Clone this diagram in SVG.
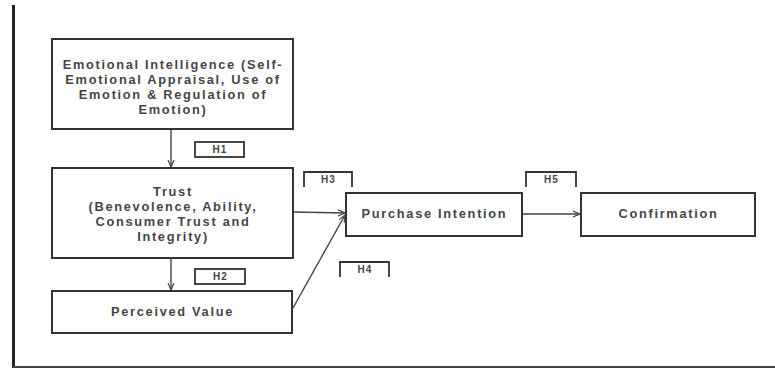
<svg xmlns="http://www.w3.org/2000/svg" width="775" height="369" viewBox="0 0 775 369">
<style>
.box{fill:#fff;stroke:#333;stroke-width:2}
.lab{fill:#fff;stroke:#333;stroke-width:1.8}
.t{font-family:"Liberation Sans",Arial,sans-serif;font-size:12.8px;letter-spacing:1.7px;font-weight:bold;fill:#454545;text-anchor:middle}
.h{font-family:"Liberation Sans",Arial,sans-serif;font-size:10px;letter-spacing:1px;font-weight:bold;fill:#454545;text-anchor:middle}
.c{stroke:#444;stroke-width:1.4;fill:none;marker-end:url(#ah)}
</style>
<defs>
<marker id="ah" markerWidth="8" markerHeight="8" refX="7" refY="4" orient="auto" markerUnits="userSpaceOnUse">
<path d="M0,1 L7,4 L0,7" fill="none" stroke="#444" stroke-width="1.2"/>
</marker>
</defs>
<rect width="775" height="369" fill="#fff"/>
<line x1="13.5" y1="5" x2="13.5" y2="368" stroke="#222" stroke-width="3"/>
<line x1="13" y1="367" x2="775" y2="367" stroke="#444" stroke-width="2"/>
<g id="connectors">
<line class="c" x1="171" y1="129" x2="171" y2="167"/>
<line class="c" x1="171" y1="258" x2="171" y2="290"/>
<line class="c" x1="294" y1="212" x2="345" y2="213"/>
<line class="c" x1="293" y1="308" x2="345" y2="215"/>
<line class="c" x1="522" y1="214" x2="580" y2="214"/>
</g>
<g id="ei">
<rect class="box" x="52" y="39" width="241" height="90"/>
<text class="t" x="173" y="69">Emotional Intelligence (Self-</text>
<text class="t" x="173" y="84">Emotional Appraisal, Use of</text>
<text class="t" x="173" y="99">Emotion &amp; Regulation of</text>
<text class="t" x="173" y="114">Emotion)</text>
</g>
<g id="trust">
<rect class="box" x="52" y="168" width="241" height="90"/>
<text class="t" x="173" y="196">Trust</text>
<text class="t" x="173" y="211">(Benevolence, Ability,</text>
<text class="t" x="173" y="226">Consumer Trust and</text>
<text class="t" x="173" y="241">Integrity)</text>
</g>
<g id="pv">
<rect class="box" x="52" y="291" width="240" height="42"/>
<text class="t" x="172.5" y="316">Perceived Value</text>
</g>
<g id="pi">
<rect class="box" x="346" y="193" width="176" height="43"/>
<text class="t" x="434.5" y="218">Purchase Intention</text>
</g>
<g id="conf">
<rect class="box" x="581" y="193" width="174" height="43"/>
<text class="t" x="668.5" y="218">Confirmation</text>
</g>
<g id="h1">
<rect class="lab" x="195" y="142" width="49" height="15"/>
<text class="h" x="220" y="153">H1</text>
</g>
<g id="h2">
<rect class="lab" x="195" y="269" width="50" height="15"/>
<text class="h" x="220.5" y="280">H2</text>
</g>
<g id="h3">
<path class="lab" d="M304,187 V172 H352 V187"/>
<text class="h" x="328.5" y="183">H3</text>
</g>
<g id="h4">
<path class="lab" d="M340,277 V262 H389 V277"/>
<text class="h" x="365" y="273">H4</text>
</g>
<g id="h5">
<path class="lab" d="M526,187 V172 H576 V187"/>
<text class="h" x="551.5" y="183">H5</text>
</g>
</svg>
